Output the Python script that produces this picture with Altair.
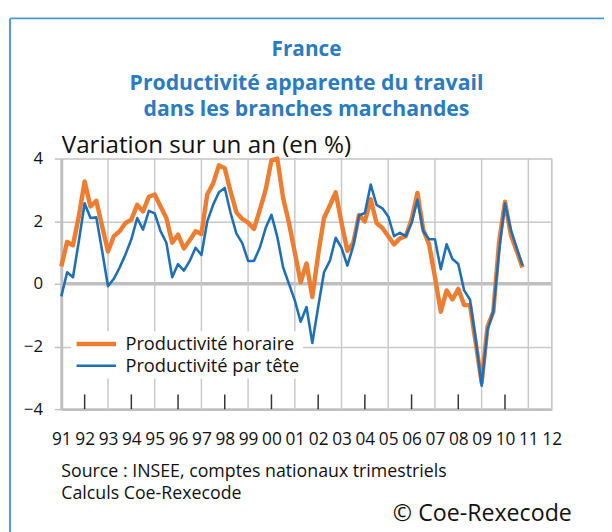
import altair as alt
import pandas as pd

# ---------------- data (quarterly, 1991Q1 .. 2010Q4) ----------------
series_names = ["Productivité horaire", "Productivité par tête"]
start_year = 1991

horaire = [
    0.55, 1.34, 1.23, 2.15,    # 1991
    3.27, 2.47, 2.65, 1.84,    # 1992
    1.03, 1.52, 1.68, 1.94,    # 1993
    2.05, 2.52, 2.31, 2.78,    # 1994
    2.85, 2.47, 2.10, 1.31,    # 1995
    1.57, 1.13, 1.39, 1.68,    # 1996
    1.59, 2.85, 3.20, 3.78,    # 1997
    3.69, 2.94, 2.28, 2.07,    # 1998
    1.95, 1.75, 2.35, 3.00,    # 1999
    3.94, 4.00, 2.73, 1.94,    # 2000
    1.00, 0.05, 0.65, -0.42,   # 2001
    0.94, 2.10, 2.50, 2.92,    # 2002
    1.95, 1.05, 1.30, 2.20,    # 2003
    1.99, 2.70, 1.94, 1.78,    # 2004
    1.52, 1.26, 1.45, 1.52,    # 2005
    2.05, 2.90, 1.73, 1.26,    # 2006
    0.21, -0.89, -0.21, -0.50, # 2007
    -0.16, -0.68, -0.68, -1.90,# 2008
    -3.15, -1.37, -0.89, 1.36, # 2009
    2.62, 1.57, 1.05, 0.52,    # 2010
]

par_tete = [
    -0.40, 0.37, 0.21, 1.35,   # 1991
    2.57, 2.10, 2.12, 1.05,    # 1992
    -0.08, 0.16, 0.52, 0.94,   # 1993
    1.42, 2.10, 1.73, 2.33,    # 1994
    2.25, 1.68, 1.31, 0.21,    # 1995
    0.63, 0.42, 0.73, 1.15,    # 1996
    0.92, 1.99, 2.52, 2.92,    # 1997
    3.06, 2.26, 1.60, 1.30,    # 1998
    0.73, 0.73, 1.15, 1.78,    # 1999
    2.20, 1.50, 0.52, 0.00,    # 2000
    -0.53, -1.21, -0.74, -1.89,# 2001
    -0.74, 0.37, 0.73, 1.47,   # 2002
    1.15, 0.58, 1.20, 2.18,    # 2003
    2.26, 3.17, 2.52, 2.41,    # 2004
    2.15, 1.52, 1.63, 1.52,    # 2005
    1.94, 2.68, 1.68, 1.42,    # 2006
    1.42, 0.47, 1.26, 0.79,    # 2007
    0.63, -0.21, -0.50, -1.80, # 2008
    -3.26, -1.47, -0.89, 1.05, # 2009
    2.57, 1.73, 1.15, 0.58,    # 2010
]

label_years = list(range(1991, 2013))
grid_years = [1993, 1995, 1997, 1999, 2001, 2003, 2005, 2007, 2009, 2011, 2012]
tick_years = [1992, 1994, 1996, 1998, 2000, 2002, 2004, 2006, 2008, 2010]
y_ticks = [-4, -2, 0, 2, 4]

title_text = "France"
subtitle_lines = ["Productivité apparente du travail", "dans les branches marchandes"]
y_title = "Variation sur un an (en %)"
source_lines = ["Source : INSEE, comptes nationaux trimestriels", "Calculs Coe-Rexecode"]
copyright_text = "© Coe-Rexecode"

colors = ["#ED7D31", "#1F6FB6"]
widths = [4.5, 2.6]
FONT = "Open Sans"
BLUE_T = "#2B7BC0"
GRID = "#c8c8c8"

# ---------------- tables ----------------
rows = []
for i, v in enumerate(horaire):
    rows.append({"t": start_year + i / 4, "v": v, "s": series_names[0]})
for i, v in enumerate(par_tete):
    rows.append({"t": start_year + i / 4, "v": v, "s": series_names[1]})
df = pd.DataFrame(rows)

W, H = 497, 254
xscale = alt.Scale(domain=[1991, 2012], nice=False, zero=False)
yscale = alt.Scale(domain=[-4, 4], nice=False, zero=False)

x_axis = alt.Axis(
    values=label_years, grid=False, ticks=False, tickSize=0,
    labelExpr="substring(toString(datum.value), 2, 4)",
    labelFont=FONT, labelFontSize=17.5, labelColor="#111",
    labelBaseline="alphabetic", labelPadding=36, labelOverlap=False,
    labelFlush=False, domainColor="#bfbfbf", domainWidth=3, title=None)
y_axis = alt.Axis(
    values=y_ticks, grid=True, gridColor=GRID, gridWidth=1.5,
    ticks=True, tickSize=7, tickColor="#bfbfbf", tickWidth=1.5,
    labelFont=FONT, labelFontSize=17, labelColor="#111", labelPadding=12,
    domainColor="#bfbfbf", domainWidth=3,
    title=y_title, titleAngle=0, titleAlign="left", titleBaseline="alphabetic",
    titleX=0, titleY=-6, titleFont=FONT, titleFontSize=24.5,
    titleFontWeight="normal", titleColor="#111", titleLimit=0)

leg = alt.Legend(title=None, orient="none", legendX=10, legendY=175,
                 fillColor="white", padding=3,
                 labelFont=FONT, labelFontSize=18.5, labelColor="#111",
                 labelOffset=7, labelLimit=0, symbolType="stroke", symbolSize=1600,
                 clipHeight=20, rowPadding=2)

color_enc = alt.Color("s:N", scale=alt.Scale(domain=series_names, range=colors), legend=leg)
sw_enc = alt.StrokeWidth("s:N", scale=alt.Scale(domain=series_names, range=widths), legend=leg)

# zero line (first layer: carries the axes)
zero = alt.Chart(pd.DataFrame({"t": [1991, 2012], "v": [0, 0]})).mark_line(
    color="#bfbfbf", strokeWidth=3.5).encode(
    x=alt.X("t:Q", scale=xscale, axis=x_axis),
    y=alt.Y("v:Q", scale=yscale, axis=y_axis))

vgrid = alt.Chart(pd.DataFrame({"t": grid_years})).mark_rule(
    color=GRID, strokeWidth=1.5).encode(
    x=alt.X("t:Q", scale=xscale, axis=x_axis),
    y=alt.datum(-4, scale=yscale), y2=alt.datum(4))

inner_ticks = alt.Chart(pd.DataFrame({"t": tick_years})).mark_rule(
    color="#333", strokeWidth=1.5).encode(
    x=alt.X("t:Q", scale=xscale, axis=x_axis),
    y=alt.datum(-4), y2=alt.datum(-3.53))

base = alt.Chart(df).mark_line(strokeJoin="round").encode(
    x=alt.X("t:Q", scale=xscale, axis=x_axis),
    y=alt.Y("v:Q", scale=yscale, axis=y_axis),
    color=color_enc, strokeWidth=sw_enc)
line_h = base.transform_filter(alt.datum.s == series_names[0])
line_p = base.transform_filter(alt.datum.s == series_names[1])

src1 = alt.Chart(pd.DataFrame({"txt": [source_lines[0]]})).mark_text(
    align="left", baseline="middle", font=FONT, fontSize=18, color="#111").encode(
    text="txt:N", x=alt.value(0), y=alt.value(318))
src2 = alt.Chart(pd.DataFrame({"txt": [source_lines[1]]})).mark_text(
    align="left", baseline="middle", font=FONT, fontSize=18, color="#111").encode(
    text="txt:N", x=alt.value(0), y=alt.value(340))
copy_t = alt.Chart(pd.DataFrame({"txt": [copyright_text]})).mark_text(
    align="left", baseline="middle", font=FONT, fontSize=23.5, color="#111").encode(
    text="txt:N", x=alt.value(336), y=alt.value(360))

frame_v = alt.Chart(pd.DataFrame({"a": [0]})).mark_rule(color="#4A9AD6", strokeWidth=2).encode(
    x=alt.value(-52), y=alt.value(-142), y2=alt.value(420))
frame_h = alt.Chart(pd.DataFrame({"a": [0]})).mark_rule(color="#4A9AD6", strokeWidth=2).encode(
    x=alt.value(-52), x2=alt.value(620), y=alt.value(-142))

chart = alt.layer(
    zero, vgrid, inner_ticks, line_h, line_p, src1, src2, copy_t, frame_v, frame_h
).properties(
    width=W, height=H,
    autosize=alt.AutoSizeParams(type="none"),
    padding={"left": 54, "top": 149, "right": 53, "bottom": 121},
    title=alt.TitleParams(
        text=title_text, subtitle=subtitle_lines, frame="group", anchor="middle",
        font=FONT, fontSize=21, fontWeight="bold", color=BLUE_T,
        subtitleFont=FONT, subtitleFontSize=21.5, subtitleFontWeight="bold",
        subtitleColor=BLUE_T, subtitleLineHeight=25.5, subtitlePadding=14, offset=-104),
).configure_view(stroke=None).configure(background="white")

chart.save("out.html", embed_options={"renderer": "svg", "actions": False})
